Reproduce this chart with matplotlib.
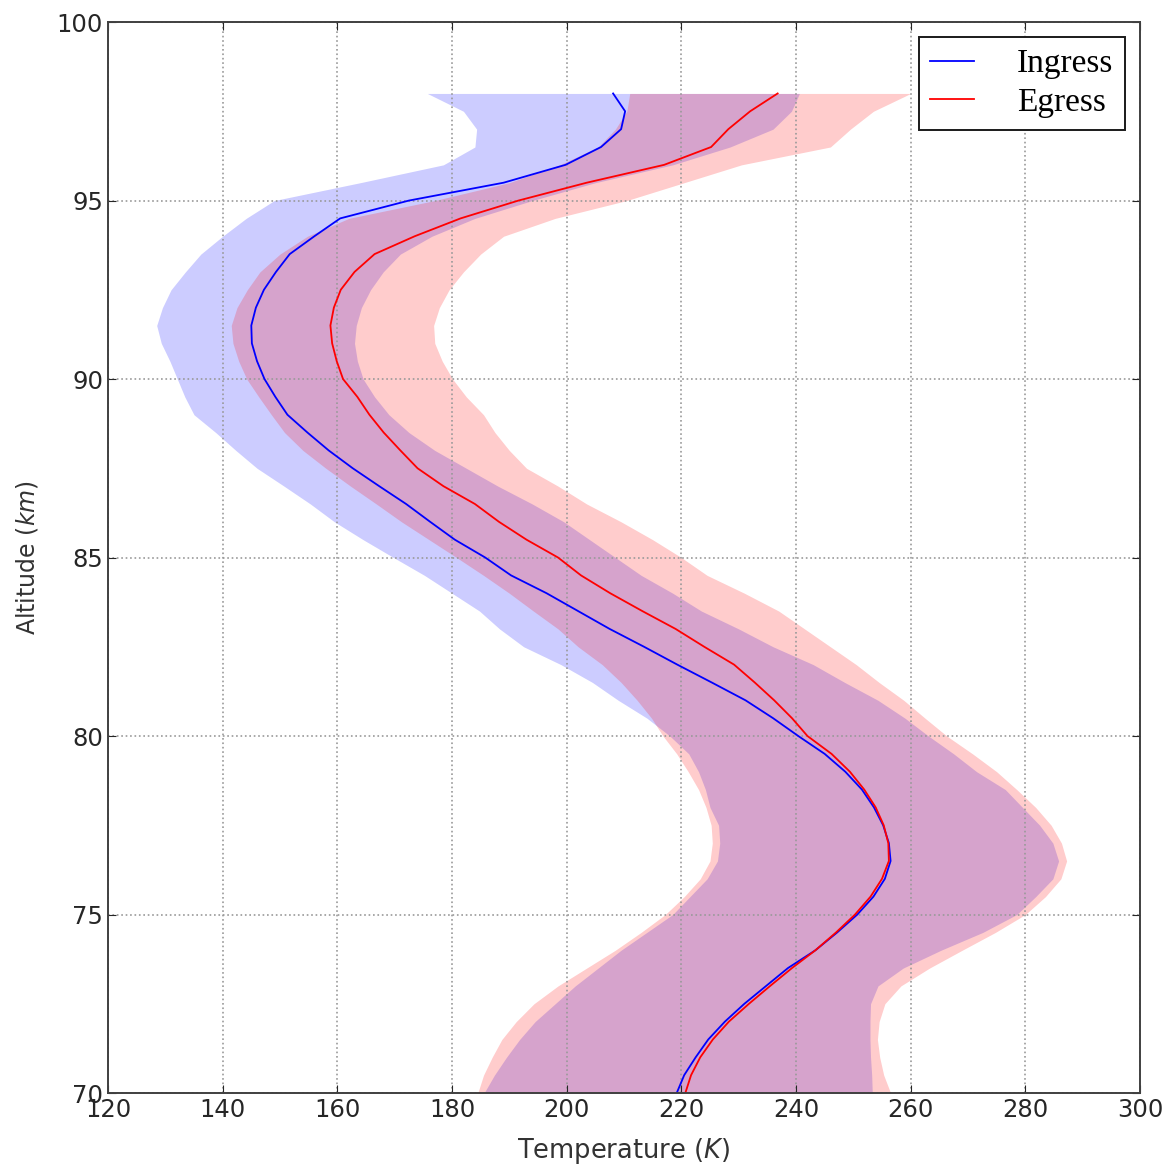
import matplotlib
matplotlib.use('Agg')
import matplotlib.pyplot as plt
import numpy as np

# altitude grid (km), top to bottom
alt = np.arange(98.0, 69.9, -0.5)

ingress_mean = [208.1, 210.2, 209.5, 206.0, 199.8, 189.0, 172.5, 160.5, 156.0, 151.7,
                149.3, 147.2, 145.8, 145.0, 145.1, 146.0, 147.3, 149.2, 151.3, 154.8,
                158.5, 162.7, 167.3, 172.0, 176.2, 180.5, 185.8, 190.3, 196.5, 202.0,
                207.5, 213.5, 219.3, 225.3, 231.2, 236.0, 240.4, 245.0, 248.6, 251.5,
                253.6, 255.2, 256.2, 256.5, 255.5, 253.5, 250.7, 247.2, 243.4, 238.6,
                234.8, 231.0, 227.6, 224.7, 222.5, 220.5, 219.2]
ingress_low = [175.7, 182.0, 184.3, 184.0, 178.5, 164.0, 149.0, 144.1, 140.0, 136.2,
               133.5, 131.0, 129.5, 128.5, 129.3, 130.8, 132.1, 133.4, 135.0, 138.8,
               142.3, 146.0, 150.7, 155.3, 159.5, 164.5, 169.8, 175.2, 180.0, 184.8,
               188.3, 192.5, 199.0, 204.5, 209.0, 214.0, 218.0, 221.3, 223.0, 224.2,
               225.0, 226.5, 226.7, 226.3, 224.5, 221.5, 218.5, 214.0, 209.5, 205.5,
               201.5, 198.0, 194.5, 191.8, 189.5, 187.4, 185.6]
ingress_high = [240.6, 239.2, 236.0, 228.5, 218.5, 205.0, 194.0, 184.0, 176.5, 171.0,
                168.0, 165.8, 164.2, 163.3, 163.0, 163.5, 164.5, 166.5, 169.0, 172.5,
                177.0, 182.5, 188.0, 194.0, 199.5, 204.0, 208.5, 213.0, 218.5, 223.5,
                230.0, 236.0, 243.0, 248.5, 254.3, 259.0, 263.1, 267.5, 271.5, 276.5,
                279.5, 282.5, 284.8, 285.8, 284.8, 281.8, 278.5, 272.6, 265.3, 258.7,
                254.3, 253.0, 252.9, 252.9, 253.0, 253.2, 253.3]

egress_mean = [236.8, 232.0, 228.2, 225.2, 217.0, 203.5, 191.6, 181.5, 173.5, 166.5,
               163.0, 160.6, 159.4, 158.8, 159.1, 159.9, 161.0, 163.5, 165.6, 168.1,
               171.0, 174.0, 178.5, 184.0, 188.2, 193.0, 198.5, 202.5, 207.6, 213.2,
               219.0, 224.0, 229.2, 232.8, 236.2, 239.3, 242.0, 246.2, 249.4, 251.9,
               253.9, 255.3, 256.1, 256.2, 255.0, 253.0, 250.3, 247.0, 243.4, 239.3,
               235.5, 231.8, 228.3, 225.5, 223.3, 221.7, 220.7]
egress_low = [211.0, 210.5, 208.5, 205.5, 198.8, 190.0, 177.0, 162.0, 154.8, 150.0,
              146.5, 144.3, 142.5, 141.5, 141.8, 142.8, 144.2, 146.3, 148.5, 150.8,
              154.0, 158.0, 162.3, 166.8, 171.2, 176.0, 180.8, 185.5, 190.0, 194.2,
              198.5, 202.0, 206.2, 209.5, 212.3, 214.8, 216.8, 219.2, 221.2, 223.0,
              224.3, 225.2, 225.4, 225.0, 223.3, 220.5, 217.2, 213.0, 208.5, 203.5,
              198.5, 194.3, 191.2, 188.7, 187.0, 185.5, 184.5]
egress_high = [260.0, 253.5, 249.5, 246.0, 230.5, 220.5, 210.5, 198.0, 189.0, 185.0,
               182.0, 179.5, 177.8, 176.8, 177.0, 178.3, 180.1, 182.5, 185.5, 187.5,
               190.0, 193.0, 198.5, 203.5, 209.5, 215.0, 220.0, 224.5, 231.0, 237.0,
               241.5, 246.0, 250.5, 254.5, 258.8, 262.5, 266.3, 270.8, 275.0, 278.5,
               281.8, 284.5, 286.3, 287.2, 286.2, 283.5, 280.0, 274.8, 269.0, 263.3,
               258.3, 255.5, 254.5, 254.2, 254.6, 255.3, 256.5]

fig = plt.figure(figsize=(11.76, 11.73), dpi=100)
ax = fig.add_axes([0.0918, 0.0682, 0.8776, 0.913])

ax.fill_betweenx(alt, ingress_low, ingress_high, color='b', alpha=0.2, lw=0)
ax.fill_betweenx(alt, egress_low, egress_high, color='r', alpha=0.2, lw=0)
ax.plot(ingress_mean, alt, color='b', lw=1.3, label='Ingress')
ax.plot(egress_mean, alt, color='r', lw=1.3, label='Egress')

ax.set_xlim(120, 300)
ax.set_ylim(70, 100)
ax.set_xticks(np.arange(120, 301, 20))
ax.set_yticks(np.arange(70, 101, 5))
ax.grid(True, color='0.6', linestyle=':', lw=1.2)
ax.tick_params(direction='in', top=True, right=True, labelsize=17.5, length=6,
               colors='0.15')
for s in ax.spines.values():
    s.set_linewidth(1.4)
    s.set_color('0.25')

ax.set_xlabel('Temperature ($K$)', fontsize=18.5, color='0.2', labelpad=10)
ax.set_ylabel('Altitude ($km$)', fontsize=17, color='0.2', labelpad=12)

leg = ax.legend(loc='upper right', fancybox=False, framealpha=1,
                prop={'family': 'Liberation Serif', 'size': 24},
                handlelength=1.3, borderpad=0.35, labelspacing=0.25,
                handletextpad=1.3, borderaxespad=0.45)
leg.get_frame().set_edgecolor('0.1')
leg.get_frame().set_linewidth(1.4)

fig.savefig('out.png', dpi=100)
plt.close(fig)
